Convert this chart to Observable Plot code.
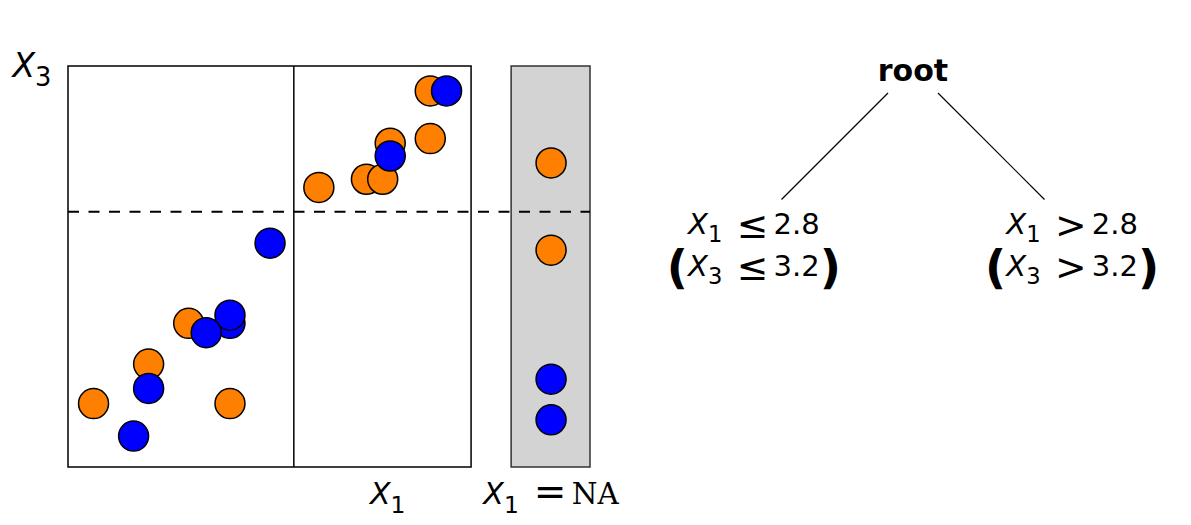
<!DOCTYPE html>
<html>
<head>
<meta charset="utf-8">
<script src="https://cdn.jsdelivr.net/npm/d3@7"></script>
<script src="https://cdn.jsdelivr.net/npm/@observablehq/plot@0.6"></script>
<style>
  html, body { margin: 0; padding: 0; background: #fff; }
  #wrap { position: relative; width: 1191px; height: 525px; overflow: hidden; }
  #scatter { position: absolute; left: 0; top: 0; }
  #tree { position: absolute; left: 620px; top: 0; }
</style>
</head>
<body>
<div id="wrap"><div id="scatter"></div><div id="tree"></div></div>
<script>
// ---------------- data ----------------
// observations with X1 observed (class "orange" and class "blue")
const orangeX1 = [1.20, 2.29, 1.64, 1.96, 3.00, 3.38, 3.51, 3.57, 3.89, 3.89];
const orangeX3 = [1.55, 1.55, 1.89, 2.24, 3.41, 3.48, 3.48, 3.79, 3.83, 4.24];
const blueX1   = [1.52, 1.64, 2.29, 2.29, 2.10, 2.61, 3.57, 4.02];
const blueX3   = [1.27, 1.68, 2.24, 2.31, 2.16, 2.93, 3.68, 4.24];
// observations with X1 missing (only X3 known)
const naOrangeX3 = [3.62, 2.87];
const naBlueX3   = [1.76, 1.41];
// split values
const splitX1 = 2.8;
const splitX3 = 3.2;
// panel extents (data units)
const x1Extent = [1, 4.22];
const x3Extent = [1, 4.45];
const naExtent = [4.54, 5.17];
// axis labels
const x3Label = "X_3";
const x1Label = "X_1";
const x1LabelAt = 3.55;
const naLabel = "X_1 = NA";
// tree
const treeLabels     = ["root", "X_1 ≤ 2.8", "X_1 > 2.8"];
const treeSurrogates = ["", "(X_3 ≤ 3.2)", "(X_3 > 3.2)"];
const treeDepth      = [0, 1, 1];
const treeSide       = [0, -1, 1];
const treeParent     = [null, 0, 0];

const colOrange = "#ff7f00";
const colBlue = "#0000ff";

// ---------------- scatter ----------------
const naMid = (naExtent[0] + naExtent[1]) / 2;
const orangePts = orangeX1.map((x, i) => ({x, y: orangeX3[i]}))
  .concat(naOrangeX3.map(y => ({x: naMid, y})));
const bluePts = blueX1.map((x, i) => ({x, y: blueX3[i]}))
  .concat(naBlueX3.map(y => ({x: naMid, y})));

const dotStyle = {x: "x", y: "y", r: 15, stroke: "black", strokeWidth: 1.5};

const scatter = Plot.plot({
  width: 620, height: 525,
  marginTop: 66, marginBottom: 58, marginLeft: 68, marginRight: 30,
  x: {domain: [x1Extent[0], naExtent[1]], axis: null},
  y: {domain: x3Extent, axis: null},
  style: {fontFamily: "DejaVu Sans", background: "transparent", color: "black"},
  marks: [
    Plot.rect([0], {x1: naExtent[0], x2: naExtent[1], y1: x3Extent[0], y2: x3Extent[1],
      fill: "#d3d3d3", stroke: "#333", strokeWidth: 1.5}),
    Plot.rect([0], {x1: x1Extent[0], x2: x1Extent[1], y1: x3Extent[0], y2: x3Extent[1],
      fill: "none", stroke: "black", strokeWidth: 1.5}),
    Plot.ruleX([splitX1], {y1: x3Extent[0], y2: x3Extent[1], stroke: "black", strokeWidth: 1.5}),
    Plot.ruleY([splitX3], {x1: x1Extent[0], x2: naExtent[1], stroke: "black", strokeWidth: 2, strokeDasharray: "11,9.5"}),
    Plot.dot(orangePts, {...dotStyle, fill: colOrange}),
    Plot.dot(bluePts, {...dotStyle, fill: colBlue}),
    Plot.text([x3Label], {frameAnchor: "top-left", textAnchor: "start", lineAnchor: "bottom", dx: -56, dy: 10, fontSize: 33}),
    Plot.text([x1Label], {x: x1LabelAt, frameAnchor: "bottom", lineAnchor: "bottom", dy: 36, fontSize: 30}),
    Plot.text([naLabel], {x: naMid, frameAnchor: "bottom", lineAnchor: "bottom", dy: 36, fontSize: 30})
  ]
});
document.getElementById("scatter").appendChild(scatter);

// ---------------- tree ----------------
const nodes = treeLabels.map((label, i) => ({label, sur: treeSurrogates[i], depth: treeDepth[i], side: treeSide[i], parent: treeParent[i]}));
const edgeTrim = 0.19;
const edges = nodes.filter(n => n.parent !== null).map(n => {
  const p = nodes[n.parent];
  return {
    x1: p.side + (n.side - p.side) * edgeTrim, y1: p.depth + (n.depth - p.depth) * edgeTrim,
    x2: n.side, y2: n.depth
  };
});
const labelSpread = 1.21;
const children = nodes.filter(n => n.depth > 0);

const tree = Plot.plot({
  width: 571, height: 525,
  marginLeft: 161, marginRight: 147, marginTop: 67.5, marginBottom: 326,
  x: {domain: [-1, 1], axis: null},
  y: {domain: [0, 1], axis: null, reverse: true},
  style: {fontFamily: "DejaVu Sans", background: "transparent", color: "black"},
  marks: [
    Plot.link(edges, {x1: "x1", y1: "y1", x2: "x2", y2: "y2", stroke: "black", strokeWidth: 1.2}),
    Plot.text(nodes.filter(n => n.depth === 0), {x: "side", y: "depth", text: "label", fontWeight: "bold", fontSize: 30, lineAnchor: "bottom", dy: 12.5}),
    Plot.text(children, {x: d => d.side * labelSpread, y: "depth", text: "label", fontSize: 29, lineAnchor: "bottom", dy: 34}),
    Plot.text(children, {x: d => d.side * labelSpread, y: "depth", text: "sur", fontSize: 29, lineAnchor: "bottom", dy: 76})
  ]
});
document.getElementById("tree").appendChild(tree);

// ---------------- rich math text ----------------
const SUB_SCALE = 0.78, SUB_SHIFT = 0.3;
const PAREN_SCALE = 1.6, PAREN_SHIFT = 0.25;
const REL_SCALE = 1.3, REL_BEFORE = 0.5, REL_AFTER = 0.18;
const REL_SHIFT = {"≤": 0.12, ">": 0.12, "=": 0.05};

function richify(svg) {
  d3.select(svg).selectAll("text").each(function () {
    const s = this.textContent;
    if (!/X_|NA|[≤>=()]/.test(s)) return;
    const base = parseFloat(getComputedStyle(this).fontSize);
    const el = d3.select(this);
    el.text(null);
    const toks = s.match(/X_\d|NA|[()≤>=]|[^X()N≤>= ]+/g) || [];
    let cur = 0, pendingDx = 0;
    const add = (txt, o) => {
      const t = el.append("tspan").text(txt);
      const shift = o.shift || 0;
      const dy = shift - cur;
      if (Math.abs(dy) > 0.01) t.attr("dy", dy);
      cur = shift;
      const dx = pendingDx + (o.dx || 0);
      if (dx) t.attr("dx", dx);
      pendingDx = o.after || 0;
      if (o.size) t.attr("font-size", o.size);
      if (o.italic) t.attr("font-style", "italic");
      if (o.bold) t.attr("font-weight", "bold");
      if (o.family) t.attr("font-family", o.family);
    };
    for (const tok of toks) {
      if (tok.startsWith("X_")) {
        add("X", {italic: true});
        add(tok.slice(2), {size: base * SUB_SCALE, shift: base * SUB_SHIFT});
      } else if (tok === "NA") {
        add("NA", {family: "DejaVu Serif", size: base * 0.98});
      } else if (tok === "(" || tok === ")") {
        add(tok, {bold: true, size: base * PAREN_SCALE, shift: base * PAREN_SHIFT});
      } else if (tok in REL_SHIFT) {
        const rs = base * REL_SCALE;
        add(tok, {size: rs, shift: rs * REL_SHIFT[tok], dx: base * REL_BEFORE, after: base * REL_AFTER});
      } else {
        add(tok, {});
      }
    }
  });
}
richify(scatter);
richify(tree);
</script>
</body>
</html>
